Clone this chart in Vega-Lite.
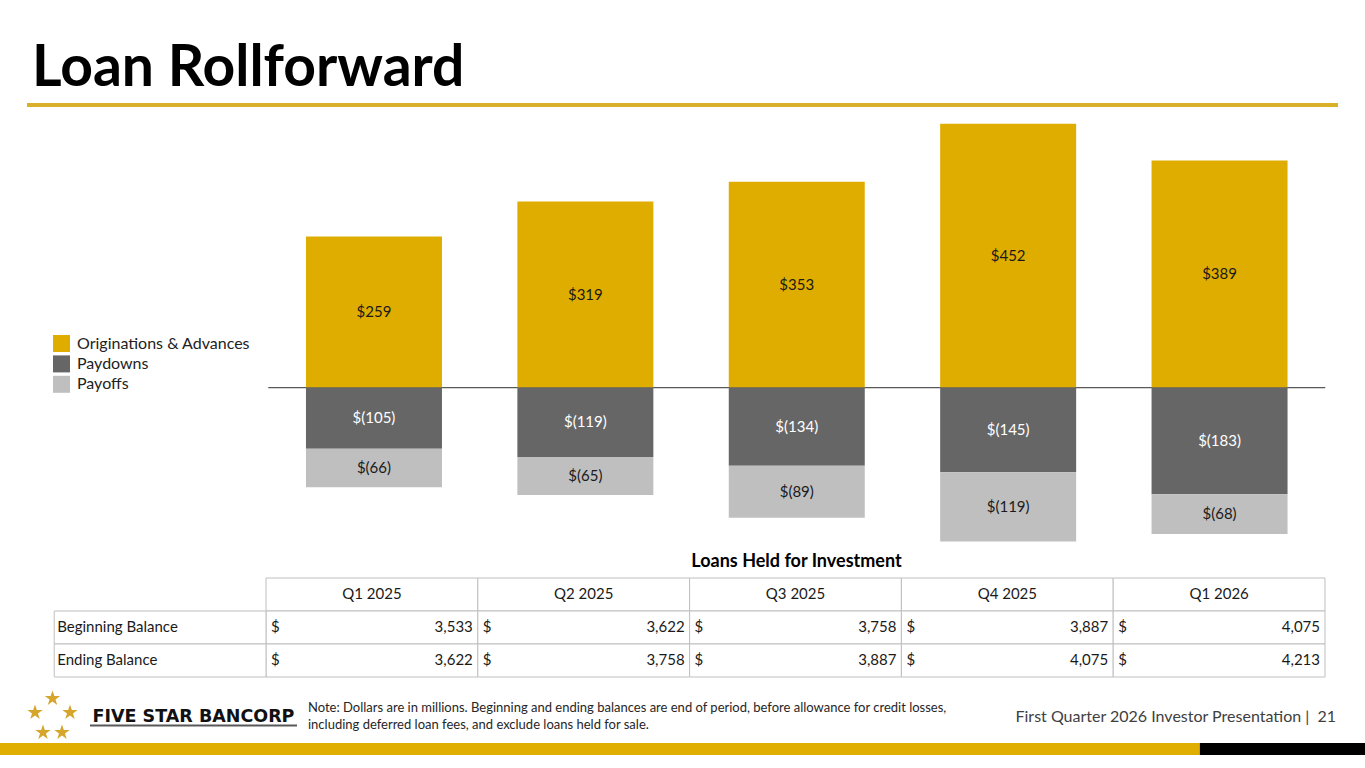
{
  "$schema": "https://vega.github.io/schema/vega-lite/v6.json",
  "padding": {"top": 39, "left": 0, "right": 0, "bottom": 0},
  "background": "#ffffff",
  "config": {"view": {"stroke": null}, "font": "Lato", "title": {"font": "Lato"}},
  "datasets": {
    "flows": [
      {"quarter": "Q1 2025", "series": "Originations & Advances", "ord": 1, "amount": 259, "label": "$259"},
      {"quarter": "Q1 2025", "series": "Paydowns", "ord": 2, "amount": -105, "label": "$(105)"},
      {"quarter": "Q1 2025", "series": "Payoffs", "ord": 3, "amount": -66, "label": "$(66)"},
      {"quarter": "Q2 2025", "series": "Originations & Advances", "ord": 1, "amount": 319, "label": "$319"},
      {"quarter": "Q2 2025", "series": "Paydowns", "ord": 2, "amount": -119, "label": "$(119)"},
      {"quarter": "Q2 2025", "series": "Payoffs", "ord": 3, "amount": -65, "label": "$(65)"},
      {"quarter": "Q3 2025", "series": "Originations & Advances", "ord": 1, "amount": 353, "label": "$353"},
      {"quarter": "Q3 2025", "series": "Paydowns", "ord": 2, "amount": -134, "label": "$(134)"},
      {"quarter": "Q3 2025", "series": "Payoffs", "ord": 3, "amount": -89, "label": "$(89)"},
      {"quarter": "Q4 2025", "series": "Originations & Advances", "ord": 1, "amount": 452, "label": "$452"},
      {"quarter": "Q4 2025", "series": "Paydowns", "ord": 2, "amount": -145, "label": "$(145)"},
      {"quarter": "Q4 2025", "series": "Payoffs", "ord": 3, "amount": -119, "label": "$(119)"},
      {"quarter": "Q1 2026", "series": "Originations & Advances", "ord": 1, "amount": 389, "label": "$389"},
      {"quarter": "Q1 2026", "series": "Paydowns", "ord": 2, "amount": -183, "label": "$(183)"},
      {"quarter": "Q1 2026", "series": "Payoffs", "ord": 3, "amount": -68, "label": "$(68)"}
    ],
    "balances": [
      {"row": "Beginning Balance", "col": "Q1 2025", "amount": 3533},
      {"row": "Beginning Balance", "col": "Q2 2025", "amount": 3622},
      {"row": "Beginning Balance", "col": "Q3 2025", "amount": 3758},
      {"row": "Beginning Balance", "col": "Q4 2025", "amount": 3887},
      {"row": "Beginning Balance", "col": "Q1 2026", "amount": 4075},
      {"row": "Ending Balance", "col": "Q1 2025", "amount": 3622},
      {"row": "Ending Balance", "col": "Q2 2025", "amount": 3758},
      {"row": "Ending Balance", "col": "Q3 2025", "amount": 3887},
      {"row": "Ending Balance", "col": "Q4 2025", "amount": 4075},
      {"row": "Ending Balance", "col": "Q1 2026", "amount": 4213}
    ],
    "headers": [
      {"row": "header", "col": "Q1 2025"},
      {"row": "header", "col": "Q2 2025"},
      {"row": "header", "col": "Q3 2025"},
      {"row": "header", "col": "Q4 2025"},
      {"row": "header", "col": "Q1 2026"}
    ],
    "rowlabels": [
      {"row": "Beginning Balance", "col": "label"},
      {"row": "Ending Balance", "col": "label"}
    ]
  },
  "spacing": 0,
  "resolve": {"scale": {"color": "independent"}, "legend": {"color": "independent"}},
  "vconcat": [
    {
      "width": 1365,
      "height": 4,
      "title": {"text": "Loan Rollforward", "anchor": "start", "dx": 32, "fontSize": 57, "fontWeight": "bold", "font": "Lato", "color": "#000000", "baseline": "alphabetic", "offset": -39.5},
      "data": {"values": [{"element": "title rule"}]},
      "mark": {"type": "rect", "color": "#D8B02A"},
      "encoding": {
        "x": {"field": "element", "type": "nominal", "axis": null, "scale": {"paddingInner": 0, "paddingOuter": 0.0206, "round": false}},
        "y": {"field": "element", "type": "nominal", "axis": null, "scale": {"paddingInner": 0, "paddingOuter": 0, "round": false}}
      }
    },
    {
      "width": 1365,
      "height": 446,
      "layer": [
        {
          "data": {"values": [{"baseline": "zero"}]},
          "mark": {"type": "rect", "fill": "#595959", "stroke": "#595959", "strokeWidth": 1.2},
          "encoding": {
            "x": {"field": "baseline", "type": "nominal", "axis": null, "scale": {"paddingInner": 0, "paddingOuter": 0.1457, "align": 0.871, "round": false}},
            "y": {"datum": 0, "type": "quantitative", "axis": null, "scale": {"domain": [-283.5, 480.9], "nice": false, "zero": false}},
            "y2": {"datum": 0}
          }
        },
        {
          "layer": [
            {
              "data": {"name": "flows"},
              "mark": {"type": "bar"},
              "encoding": {
                "x": {"field": "quarter", "type": "nominal", "axis": null, "scale": {"domain": ["Q1 2025", "Q2 2025", "Q3 2025", "Q4 2025", "Q1 2026"], "paddingInner": 0.3567, "paddingOuter": 0.9069, "align": 0.798, "round": false}},
                "y": {"field": "amount", "type": "quantitative", "stack": "zero", "axis": null, "scale": {"domain": [-283.5, 480.9], "nice": false, "zero": false}},
                "color": {
                  "field": "series",
                  "type": "nominal",
                  "scale": {"domain": ["Originations & Advances", "Paydowns", "Payoffs"], "range": ["#DFAD00", "#666666", "#BFBFBF"]},
                  "legend": {"orient": "none", "legendX": 53, "legendY": 228, "title": null, "symbolType": "square", "symbolSize": 289, "symbolStrokeWidth": 0, "symbolOpacity": 1, "labelFontSize": 16, "labelFont": "Lato", "labelColor": "#222222", "labelLimit": 0, "rowPadding": 3.4, "labelOffset": 7, "padding": 0}
                },
                "order": {"field": "ord", "type": "quantitative"}
              }
            },
            {
              "data": {"name": "flows"},
              "mark": {"type": "text", "fontSize": 15, "font": "Lato"},
              "encoding": {
                "x": {"field": "quarter", "type": "nominal", "axis": null, "scale": {"domain": ["Q1 2025", "Q2 2025", "Q3 2025", "Q4 2025", "Q1 2026"], "paddingInner": 0.3567, "paddingOuter": 0.9069, "align": 0.798, "round": false}},
                "y": {"field": "amount", "type": "quantitative", "stack": "zero", "bandPosition": 0.5, "axis": null, "scale": {"domain": [-283.5, 480.9], "nice": false, "zero": false}},
                "detail": {"field": "series"},
                "order": {"field": "ord", "type": "quantitative"},
                "text": {"field": "label"},
                "color": {"condition": {"test": "datum.series === 'Paydowns'", "value": "#ffffff"}, "value": "#1a1a1a"}
              }
            }
          ]
        }
      ],
      "resolve": {"scale": {"x": "independent"}}
    },
    {
      "width": 1365,
      "height": 112,
      "title": {"text": "Loans Held for Investment", "anchor": "middle", "dx": 114, "fontSize": 18, "fontWeight": "bold", "font": "Lato", "color": "#000000", "baseline": "alphabetic", "offset": -7.5},
      "layer": [
        {
          "data": {"name": "headers"},
          "mark": {"type": "rect", "fill": "#ffffff", "stroke": "#BFBFBF", "strokeWidth": 1},
          "encoding": {
            "x": {"field": "col", "type": "nominal", "axis": null, "scale": {"domain": ["label", "Q1 2025", "Q2 2025", "Q3 2025", "Q4 2025", "Q1 2026"], "paddingInner": 0, "paddingOuter": 0.2224, "align": 0.5754, "round": false}},
            "y": {"field": "row", "type": "nominal", "axis": null, "scale": {"domain": ["header", "Beginning Balance", "Ending Balance"], "paddingInner": 0, "paddingOuter": 0.197, "align": 0, "round": false}}
          }
        },
        {
          "data": {"name": "balances"},
          "mark": {"type": "rect", "fill": "#ffffff", "stroke": "#BFBFBF", "strokeWidth": 1},
          "encoding": {
            "x": {"field": "col", "type": "nominal", "axis": null},
            "y": {"field": "row", "type": "nominal", "axis": null}
          }
        },
        {
          "data": {"name": "rowlabels"},
          "mark": {"type": "rect", "fill": "#ffffff", "stroke": "#BFBFBF", "strokeWidth": 1},
          "encoding": {
            "x": {"field": "col", "type": "nominal", "axis": null},
            "y": {"field": "row", "type": "nominal", "axis": null}
          }
        },
        {
          "data": {"name": "headers"},
          "mark": {"type": "text", "fontSize": 15, "font": "Lato", "color": "#1a1a1a"},
          "encoding": {
            "x": {"field": "col", "type": "nominal", "axis": null},
            "y": {"field": "row", "type": "nominal", "axis": null},
            "text": {"field": "col"}
          }
        },
        {
          "data": {"name": "rowlabels"},
          "mark": {"type": "text", "fontSize": 15, "font": "Lato", "color": "#1a1a1a", "align": "left", "dx": 3},
          "encoding": {
            "x": {"field": "col", "type": "nominal", "axis": null, "bandPosition": 0},
            "y": {"field": "row", "type": "nominal", "axis": null},
            "text": {"field": "row"}
          }
        },
        {
          "data": {"name": "balances"},
          "mark": {"type": "text", "fontSize": 15, "font": "Lato", "color": "#1a1a1a", "align": "left", "dx": 5},
          "encoding": {
            "x": {"field": "col", "type": "nominal", "axis": null, "bandPosition": 0},
            "y": {"field": "row", "type": "nominal", "axis": null},
            "text": {"value": "$"}
          }
        },
        {
          "data": {"name": "balances"},
          "mark": {"type": "text", "fontSize": 15, "font": "Lato", "color": "#1a1a1a", "align": "right", "dx": -5},
          "encoding": {
            "x": {"field": "col", "type": "nominal", "axis": null, "bandPosition": 1},
            "y": {"field": "row", "type": "nominal", "axis": null},
            "text": {"field": "amount", "type": "quantitative", "format": ","}
          }
        }
      ]
    },
    {
      "width": 1365,
      "height": 52,
      "layer": [
        {
          "data": {"values": [{"item": "logo"}]},
          "mark": {
            "type": "point",
            "shape": "M0,-1.024L0.071,-0.811L0.295,-0.81L0.114,-0.677L0.182,-0.463L0,-0.594L-0.182,-0.463L-0.114,-0.677L-0.295,-0.81L-0.071,-0.811Z M-0.673,-0.485L-0.603,-0.272L-0.378,-0.271L-0.559,-0.138L-0.491,0.076L-0.673,-0.055L-0.855,0.076L-0.787,-0.138L-0.968,-0.271L-0.744,-0.272Z M0.673,-0.485L0.744,-0.272L0.968,-0.271L0.787,-0.138L0.855,0.076L0.673,-0.055L0.491,0.076L0.559,-0.138L0.378,-0.271L0.603,-0.272Z M-0.365,0.284L-0.295,0.497L-0.07,0.498L-0.251,0.631L-0.183,0.845L-0.365,0.714L-0.547,0.845L-0.479,0.631L-0.66,0.498L-0.436,0.497Z M0.365,0.284L0.436,0.497L0.66,0.498L0.479,0.631L0.547,0.845L0.365,0.714L0.183,0.845L0.251,0.631L0.07,0.498L0.295,0.497Z",
            "size": 2704,
            "filled": true,
            "color": "#D6A62C",
            "opacity": 1,
            "strokeWidth": 0
          },
          "encoding": {
            "x": {"field": "item", "type": "nominal", "axis": null, "scale": {"type": "point", "align": 0.03846, "round": false}}
          }
        },
        {
          "data": {"values": [{"item": "brand", "text": "FIVE STAR BANCORP"}]},
          "mark": {"type": "text", "font": "DejaVu Sans", "fontWeight": "bold", "fontSize": 17.5, "color": "#111111", "align": "center"},
          "encoding": {
            "x": {"field": "item", "type": "nominal", "axis": null, "scale": {"type": "point", "align": 0.14176, "round": false}},
            "text": {"field": "text"}
          }
        },
        {
          "data": {"values": [{"item": "brand underline"}]},
          "mark": {"type": "tick", "orient": "horizontal", "size": 207, "thickness": 2, "color": "#111111", "yOffset": 8.5},
          "encoding": {
            "x": {"field": "item", "type": "nominal", "axis": null, "scale": {"type": "point", "align": 0.14176, "round": false}}
          }
        },
        {
          "data": {"values": [{"item": "note", "lines": ["Note: Dollars are in millions. Beginning and ending balances are end of period, before allowance for credit losses,", "including deferred loan fees, and exclude loans held for sale."]}]},
          "mark": {"type": "text", "font": "Lato", "fontSize": 13, "lineHeight": 17, "dy": -9, "color": "#262626", "align": "left"},
          "encoding": {
            "x": {"field": "item", "type": "nominal", "axis": null, "scale": {"type": "point", "align": 0.22564, "round": false}},
            "text": {"field": "lines"}
          }
        },
        {
          "data": {"values": [{"item": "page", "text": "First Quarter 2026 Investor Presentation |\u00a0 21"}]},
          "mark": {"type": "text", "font": "Lato", "fontSize": 16, "color": "#404040", "align": "right"},
          "encoding": {
            "x": {"field": "item", "type": "nominal", "axis": null, "scale": {"type": "point", "align": 0.97875, "round": false}},
            "text": {"field": "text"}
          }
        }
      ],
      "resolve": {"scale": {"x": "independent", "y": "independent"}}
    },
    {
      "width": 1365,
      "height": 12,
      "data": {"values": [{"band": "slide footer", "segment": "accent", "ord": 1, "share": 87.9}, {"band": "slide footer", "segment": "end", "ord": 2, "share": 12.1}]},
      "mark": {"type": "bar"},
      "encoding": {
        "x": {"field": "share", "type": "quantitative", "stack": "zero", "axis": null, "scale": {"domain": [0, 100], "nice": false}},
        "y": {"field": "band", "type": "nominal", "axis": null, "scale": {"paddingInner": 0, "paddingOuter": 0, "round": false}},
        "color": {"field": "segment", "type": "nominal", "scale": {"domain": ["accent", "end"], "range": ["#E0AE00", "#000000"]}, "legend": null},
        "order": {"field": "ord", "type": "quantitative"}
      }
    }
  ]
}
